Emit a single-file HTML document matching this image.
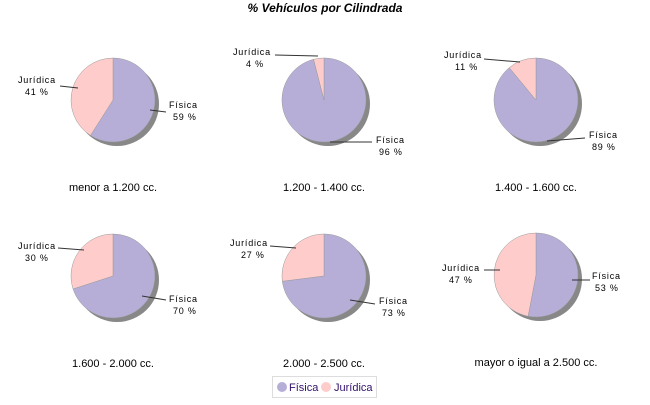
<!DOCTYPE html>
<html><head><meta charset="utf-8"><style>
body{margin:0;background:#fff;width:650px;height:400px;overflow:hidden}
text{font-family:"Liberation Sans",sans-serif;fill:#000}
</style></head><body>
<svg id="s" width="650" height="400" xmlns="http://www.w3.org/2000/svg">
<text x="325" y="12" text-anchor="middle" font-size="12" font-weight="bold" font-style="italic">% Vehículos por Cilindrada</text>
<rect x="272.5" y="376.5" width="104" height="21" fill="#fff" stroke="#ddd"/>
<circle cx="282" cy="387" r="5" fill="#b7aed8"/>
<text x="289" y="391" font-size="11" style="fill:#33116a">Física</text>
<circle cx="326" cy="387" r="5" fill="#ffcccc"/>
<text x="334" y="391" font-size="11" style="fill:#33116a">Jurídica</text>
</svg>
<script>
var s=document.getElementById('s'),NS='http://www.w3.org/2000/svg';
function el(t,a,txt){var e=document.createElementNS(NS,t);for(var k in a)e.setAttribute(k,a[k]);if(txt)e.textContent=txt;s.appendChild(e);return e;}
var pies=[
[113,100,59,'menor a 1.200 cc.',[18,80,25],[60,86,78,88],[169,105,173],[150,110,166,112]],
[324,100,96,'1.200 - 1.400 cc.',[233,52,246],[275,55,318,56],[376,140,379],[330,142,372,142]],
[536,100,89,'1.400 - 1.600 cc.',[444,55,455],[484,59,520,62],[589,135,592],[547,141,585,138]],
[113,276,70,'1.600 - 2.000 cc.',[18,246,25],[58,248,84,250],[169,299,173],[142,296,166,300]],
[324,276,73,'2.000 - 2.500 cc.',[230,243,241],[270,246,296,248],[379,301,382],[350,300,375,304]],
[536,275,53,'mayor o igual a 2.500 cc.',[442,268,449],[484,270,500,270],[592,276,595],[572,280,590,280]]];
var r=42,d=3;
pies.forEach(function(p){
var cx=p[0],cy=p[1],f=p[2]/100;
el('circle',{cx:cx+4,cy:cy+4,r:r,fill:'#888'});
var a=2*Math.PI*f,x=cx+r*Math.sin(a),y=cy-r*Math.cos(a),lg=f>0.5?1:0;
el('path',{d:'M'+cx+','+cy+'L'+cx+','+(cy-r)+'A'+r+','+r+' 0 '+lg+' 1 '+x+','+y+'Z',fill:'#b7aed8',stroke:'#999','stroke-width':0.5});
el('path',{d:'M'+cx+','+cy+'L'+x+','+y+'A'+r+','+r+' 0 '+(1-lg)+' 1 '+cx+','+(cy-r)+'Z',fill:'#ffcccc',stroke:'#999','stroke-width':0.5});
el('text',{x:cx,y:cy+91,'text-anchor':'middle','font-size':11},p[3]);
el('text',{x:p[4][0],y:p[4][1]+d,'font-size':9,'letter-spacing':'0.8'},'Jurídica');
el('text',{x:p[4][2],y:p[4][1]+12+d,'font-size':9,'letter-spacing':'0.8'},(100-p[2])+' %');
el('line',{x1:p[5][0],y1:p[5][1],x2:p[5][2],y2:p[5][3],stroke:'#333','stroke-width':1});
el('text',{x:p[6][0],y:p[6][1]+d,'font-size':9,'letter-spacing':'0.8'},'Física');
el('text',{x:p[6][2],y:p[6][1]+12+d,'font-size':9,'letter-spacing':'0.8'},p[2]+' %');
el('line',{x1:p[7][0],y1:p[7][1],x2:p[7][2],y2:p[7][3],stroke:'#333','stroke-width':1});
});
</script>
</body></html>
